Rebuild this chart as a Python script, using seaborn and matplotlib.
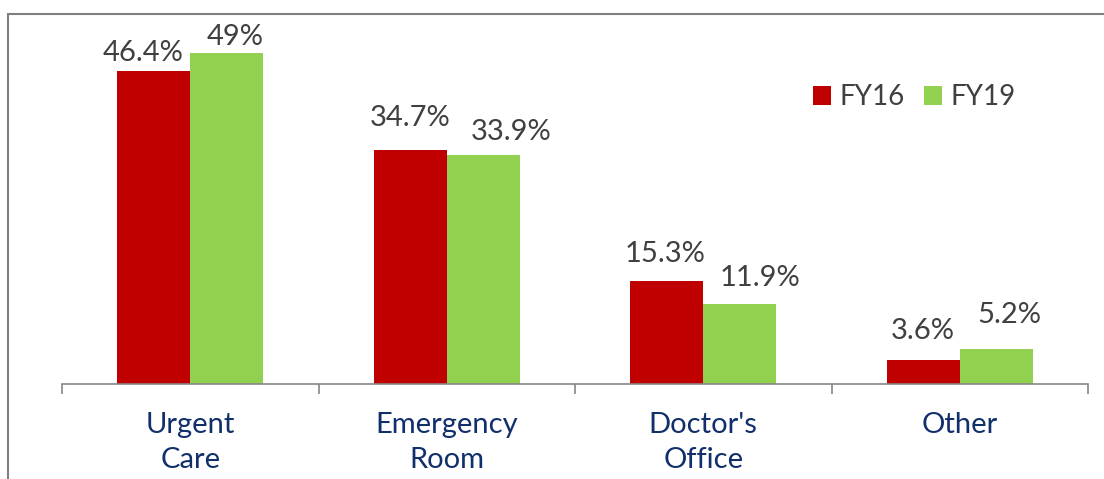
import matplotlib
matplotlib.use("Agg")
import matplotlib.pyplot as plt
import seaborn as sns
import pandas as pd
from matplotlib.lines import Line2D
from matplotlib.patches import Patch

sns.set_theme(style="white")
plt.rcParams['font.family'] = ['Lato', 'DejaVu Sans']

# data
categories = ["Urgent\nCare", "Emergency\nRoom", "Doctor's\nOffice", "Other"]
fy16 = [46.4, 34.7, 15.3, 3.6]
fy19 = [49, 33.9, 11.9, 5.2]
fy16_labels = ["46.4%", "34.7%", "15.3%", "3.6%"]
fy19_labels = ["49%", "33.9%", "11.9%", "5.2%"]
series = ["FY16", "FY19"]

red = "#C00000"
green = "#92D050"
navy = "#112F6B"
grey_txt = "#404040"
grey_line = "#868686"

df = pd.DataFrame({
    "category": categories * 2,
    "value": fy16 + fy19,
    "series": ["FY16"] * 4 + ["FY19"] * 4,
})

fig = plt.figure(figsize=(11.04, 4.79), dpi=100)
ax = fig.add_axes([0.0562, 0.1983, 0.9293, 0.7756])

sns.barplot(data=df, x="category", y="value", hue="series", order=categories,
            hue_order=series, palette=[red, green], width=0.57, linewidth=0,
            saturation=1, ax=ax, legend=False)

ax.set_ylim(0, 55)
ax.set_xlim(-0.5, 3.5)
ax.set_xlabel("")
ax.set_ylabel("")
ax.set_yticks([])
for s in ["top", "right", "left"]:
    ax.spines[s].set_visible(False)
ax.spines["bottom"].set_color(grey_line)
ax.spines["bottom"].set_linewidth(1.2)

ax.tick_params(axis="x", which="major", length=0, pad=20, labelsize=21, labelcolor=navy)
ax.set_xticks([-0.5, 0.5, 1.5, 2.5, 3.5], minor=True)
ax.tick_params(axis="x", which="minor", length=7.2, width=1.2, color=grey_line, bottom=True)
for lab in ax.get_xticklabels():
    lab.set_linespacing(1.45)
    lab.set_verticalalignment("top")

# value labels, nudged like the original
offs16 = [(-11, 18), (0, 32), (-2, 27), (0, 29)]
offs19 = [(8, 16), (28, 23), (20, 26), (13, 34)]
for cont, labels, offs in zip(ax.containers, [fy16_labels, fy19_labels], [offs16, offs19]):
    for bar, txt, (dx, dy) in zip(cont, labels, offs):
        ax.annotate(txt, (bar.get_x() + bar.get_width() / 2, bar.get_height()),
                    xytext=(dx, dy), textcoords="offset pixels",
                    ha="center", va="center", fontsize=21, color=grey_txt)

handles = [Patch(facecolor=red, edgecolor="none"), Patch(facecolor=green, edgecolor="none")]
fig.legend(handles, series, loc="center left", bbox_to_anchor=(813 / 1104, 1 - 97 / 479),
           ncol=2, frameon=False, fontsize=20, handlelength=0.65, handleheight=0.65,
           handletextpad=0.3, columnspacing=0.7, borderpad=0, borderaxespad=0,
           labelcolor=grey_txt)

# outer frame (top and left edges visible)
fig.add_artist(Line2D([7.5 / 1104, 7.5 / 1104], [0, 1 - 13.5 / 479], color="#7F7F7F", lw=1.5))
fig.add_artist(Line2D([7.5 / 1104, 1], [1 - 13.5 / 479, 1 - 13.5 / 479], color="#7F7F7F", lw=1.5))

fig.savefig("out.png", dpi=100)
